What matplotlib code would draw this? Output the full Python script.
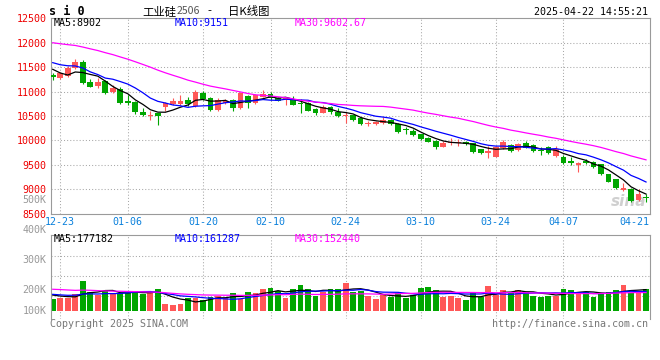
import numpy as np
import matplotlib
matplotlib.use('Agg')
import matplotlib.pyplot as plt
from matplotlib.transforms import blended_transform_factory

# ---------------- data ----------------
dates = ['12-20','12-23','12-24','12-25','12-26','12-27','12-30','12-31',
         '01-02','01-03','01-06','01-07','01-08','01-09','01-10','01-13','01-14','01-15',
         '01-16','01-17','01-20','01-21','01-22','01-23','01-24','01-27',
         '02-05','02-06','02-07','02-10','02-11','02-12','02-13','02-14','02-17','02-18',
         '02-19','02-20','02-21','02-24','02-25','02-26','02-27','02-28',
         '03-03','03-04','03-05','03-06','03-07','03-10','03-11','03-12','03-13','03-14',
         '03-17','03-18','03-19','03-20','03-21','03-24','03-25','03-26','03-27','03-28','03-31',
         '04-01','04-02','04-03','04-07','04-08','04-09','04-10','04-11','04-14','04-15',
         '04-16','04-17','04-18','04-21','04-22']

open_ = [11330, 11275, 11320, 11490, 11610, 11195, 11110, 11220, 11000, 11050,
         10810, 10795, 10590, 10495, 10555, 10690, 10745, 10745, 10825, 10700,
         10970, 10860, 10625, 10765, 10825, 10660, 10905, 10760, 10895, 10960,
         10860, 10830, 10830, 10775, 10760, 10645, 10570, 10680, 10590, 10490,
         10515, 10450, 10340, 10330, 10350, 10425, 10340, 10225, 10200, 10130,
         10045, 9995, 9875, 9945, 9945, 9975, 9940, 9820, 9740, 9670,
         9840, 9905, 9805, 9940, 9905, 9805, 9860, 9680, 9655, 9585,
         9500, 9585, 9565, 9515, 9305, 9205, 8990, 9000, 8780, 8850]
high = [11375, 11400, 11520, 11660, 11640, 11255, 11275, 11235, 11130, 11090,
        10930, 10800, 10655, 10600, 10560, 10795, 10870, 10930, 10890, 11030,
        11020, 10880, 10860, 10850, 10840, 11000, 10930, 10950, 11040, 11000,
        10880, 10880, 10910, 10840, 10795, 10660, 10725, 10705, 10657, 10590,
        10530, 10460, 10400, 10400, 10480, 10440, 10360, 10270, 10240, 10140,
        10060, 10010, 9990, 10040, 10020, 9990, 9955, 9830, 9880, 9880,
        10010, 9920, 9940, 9990, 9930, 9870, 9890, 9885, 9700, 9665,
        9565, 9620, 9580, 9520, 9310, 9210, 9120, 9030, 9000, 8905]
low = [11235, 11250, 11295, 11470, 11160, 11095, 11080, 10945, 10980, 10740,
       10720, 10545, 10500, 10410, 10315, 10600, 10715, 10725, 10705, 10680,
       10830, 10610, 10610, 10755, 10610, 10640, 10660, 10740, 10880, 10830,
       10800, 10720, 10720, 10570, 10605, 10520, 10555, 10540, 10486, 10365,
       10400, 10320, 10290, 10320, 10340, 10320, 10160, 10130, 10090, 10010,
       9965, 9830, 9860, 9905, 9890, 9905, 9735, 9720, 9635, 9655,
       9830, 9770, 9790, 9840, 9770, 9700, 9720, 9655, 9510, 9500,
       9360, 9520, 9440, 9300, 9150, 9010, 8970, 8740, 8750, 8745]
close = [11290, 11375, 11490, 11610, 11180, 11100, 11200, 10980, 11065, 10760,
         10770, 10575, 10520, 10520, 10510, 10760, 10800, 10810, 10745, 10990,
         10850, 10625, 10825, 10810, 10660, 10965, 10760, 10930, 10950, 10865,
         10815, 10860, 10725, 10750, 10610, 10555, 10690, 10590, 10500, 10520,
         10410, 10335, 10365, 10385, 10425, 10335, 10180, 10205, 10115, 10025,
         9975, 9875, 9955, 9975, 9970, 9930, 9770, 9740, 9790, 9860,
         9975, 9785, 9925, 9850, 9790, 9775, 9750, 9820, 9530, 9545,
         9530, 9535, 9450, 9310, 9155, 9020, 9020, 8750, 8905, 8815]
volume = [99000, 105000, 105000, 141000, 248000, 160000, 132000, 166000, 146000, 152000,
          152000, 168000, 141000, 146000, 182000, 58000, 50000, 58000, 105000, 105000,
          91000, 119000, 124000, 110000, 149000, 99000, 155000, 149000, 182000, 190000,
          166000, 105000, 182000, 215000, 182000, 124000, 155000, 182000, 182000, 232000,
          160000, 166000, 127000, 99000, 132000, 118000, 147000, 110000, 132000, 193000,
          200000, 178000, 118000, 127000, 110000, 91000, 145000, 118000, 205000, 132000,
          175000, 155000, 175000, 160000, 127000, 118000, 128000, 128000, 185000, 178000,
          155000, 155000, 113000, 149000, 160000, 174000, 215000, 149000, 166000, 182000]

# sessions before 12-20 (needed only for the moving averages at the left edge)
prior_close = [12000, 12050, 12100, 12150, 12200, 12250, 12300, 12250, 12200, 12150,
               12150, 12150, 12195, 12350, 12400, 12300, 12250, 12300, 12200, 12135,
               11800, 11700, 11650, 11600, 11890, 11750, 11700, 11300, 11240]
prior_volume = [180000, 210000, 230000, 190000, 200000, 220000, 240000, 195000, 185000, 205000,
                210000, 190000, 200000, 215000, 195000, 205000, 190000, 210000, 175000, 175000,
                150000, 140000, 135000, 155000, 140000, 145000, 130000, 150000, 136000]

date_tick_labels = ['12-23', '01-06', '01-20', '02-10', '02-24', '03-10', '03-24', '04-07', '04-21']
price_ticks = [8500, 9000, 9500, 10000, 10500, 11000, 11500, 12000, 12500]
vol_tick_labels = ['500K', '400K', '300K', '200K', '100K']
ma_labels = ['MA5:8902', 'MA10:9151', 'MA30:9602.67']
vol_ma_labels = ['MA5:177182', 'MA10:161287', 'MA30:152440']

# ---------------- helpers ----------------
W, H = 660, 360
def fx(px): return px / W
def fy(py): return 1 - py / H

def moving_avg(prior, vals, n):
    full = np.array(list(prior) + list(vals), dtype=float)
    out = np.convolve(full, np.ones(n) / n, mode='full')[:len(full)]
    return out[len(prior):]

RED = '#ff5757'
GREEN = '#00a600'
FRAME = '#9a9a9a'
GRID = '#a8a8a8'
MONO = 'DejaVu Sans Mono'
MA_COLORS = ['#000000', '#0000ff', '#ff00ff']

o = np.array(open_, float); c = np.array(close, float)
hi = np.array(high, float); lo = np.array(low, float)
v = np.array(volume, float)
x = np.arange(len(dates))
up = c >= o
cols = np.where(up, RED, GREEN)

fig = plt.figure(figsize=(6.6, 3.6), dpi=100)
fig.patch.set_facecolor('white')

# ---------------- price panel ----------------
L, R = 50.7, 650.0
ax = fig.add_axes([fx(L), fy(213.7), (R - L) / W, (213.7 - 18.3) / H])
ax.set_xlim(-0.27, 79.53)
ax.set_ylim(8500, 12500)

grid_pos = [dates.index(d) for d in date_tick_labels]
for gp in grid_pos[:-1]:
    ax.axvline(gp, color=GRID, lw=0.75, ls=(0, (1, 2)), zorder=0)
for p in price_ticks[1:-1]:
    ax.axhline(p, color=GRID, lw=0.75, ls=(0, (1, 2)), zorder=0)

ax.text(0.965, 0.06, 'sina', transform=ax.transAxes, ha='center', va='center',
        fontsize=11, style='italic', weight='bold', color='#c4c4c4', alpha=0.8, zorder=1)

ax.vlines(x, lo, hi, colors=cols, lw=0.8, zorder=2)
body = np.maximum(np.abs(c - o), 16)
ax.bar(x, body, bottom=np.minimum(o, c), width=0.76, color=cols, lw=0, zorder=3)

for n, col in zip([5, 10, 30], MA_COLORS):
    ax.plot(x, moving_avg(prior_close, close, n), color=col, lw=0.9, zorder=4)

ax.set_yticks(price_ticks)
ax.set_yticklabels([str(p) for p in price_ticks], color='#ee0000', fontsize=7.2, family=MONO)
ax.set_xticks([])
ax.tick_params(axis='y', length=0, pad=3)
for s in ax.spines.values():
    s.set_color(FRAME); s.set_linewidth(0.8)

tr = blended_transform_factory(ax.transData, fig.transFigure)
for lab, gp in zip(date_tick_labels, grid_pos):
    xx = gp if lab != date_tick_labels[-1] else gp - 0.5
    ax.text(xx, fy(222), lab, transform=tr, ha='center', va='center',
            fontsize=7.2, family=MONO, color='#0a80dc')

# ---------------- volume panel ----------------
k = 8280.0  # volume per pixel
axv = fig.add_axes([fx(L), fy(319), (R - L) / W, (319 - 235) / H])
axv.set_xlim(-0.27, 79.53)
axv.set_ylim(-8 * k, 76 * k)
for gp in grid_pos[:-1]:
    axv.axvline(gp, color=GRID, lw=0.75, ls=(0, (1, 2)), zorder=0)
for gy in [255.7, 275.7, 295.7]:
    axv.axhline((311 - gy) * k, color=GRID, lw=0.75, ls=(0, (1, 2)), zorder=0)
axv.bar(x, v, width=0.77, color=cols, lw=0, zorder=2)
for n, col in zip([5, 10, 30], MA_COLORS):
    axv.plot(x, moving_avg(prior_volume, volume, n), color=col, lw=0.9, zorder=3)
axv.set_xticks([]); axv.set_yticks([])
for name, s in axv.spines.items():
    s.set_color(FRAME); s.set_linewidth(0.8)
axv.spines['bottom'].set_visible(False)

# ---------------- texts ----------------
fig.text(fx(49), fy(11.5), 's i 0', fontsize=8.5, weight='bold', family=MONO,
         ha='left', va='center', color='black')
cjk = ['Noto Sans CJK SC', 'DejaVu Sans']
fig.text(fx(142), fy(11.5), '工业硅', fontsize=8.2, family=cjk, ha='left', va='center', color='black')
fig.text(fx(177), fy(11.5), '2506', fontsize=7.6, family=cjk, ha='left', va='center', color='#555555')
fig.text(fx(207), fy(11.5), '-', fontsize=8.2, family=cjk, ha='left', va='center', color='black')
fig.text(fx(228), fy(11.5), '日K线图', fontsize=8.2, family=cjk, ha='left', va='center', color='black')
fig.text(fx(648), fy(12), '2025-04-22 14:55:21', fontsize=7.2, family=MONO,
         ha='right', va='center', color='black')

for lab, px, col in zip(ma_labels, [54, 174.5, 295], MA_COLORS):
    fig.text(fx(px), fy(23.3), lab, fontsize=7.2, family=MONO, ha='left', va='center', color=col)
for lab, px, col in zip(vol_ma_labels, [54, 174.5, 295], MA_COLORS):
    fig.text(fx(px), fy(239.5), lab, fontsize=7.2, family=MONO, ha='left', va='center', color=col)

for lab, py in zip(vol_tick_labels, [200, 230.5, 260, 290, 311]):
    fig.text(fx(46.7), fy(py), lab, fontsize=7.2, family=MONO, ha='right', va='center', color='#999999')

fig.text(fx(50), fy(324), 'Copyright 2025 SINA.COM', fontsize=7.2, family=MONO,
         ha='left', va='center', color='#777777')
fig.text(fx(648), fy(324), 'http://finance.sina.com.cn', fontsize=7.2, family=MONO,
         ha='right', va='center', color='#777777')

fig.savefig('out.png', dpi=100, facecolor='white')
